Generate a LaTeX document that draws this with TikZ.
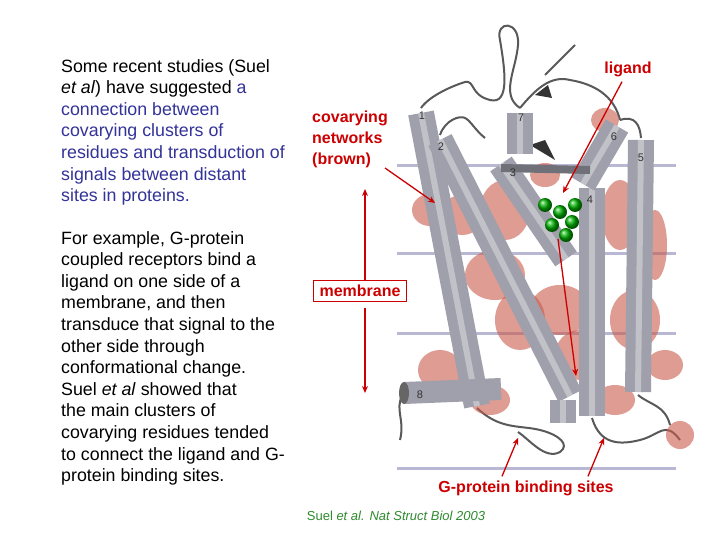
\documentclass[tikz,border=0pt]{standalone}
\usepackage{fontspec}
\setmainfont{Liberation Sans}
\usetikzlibrary{arrows.meta}
\definecolor{tblue}{HTML}{333399}
\definecolor{tred}{HTML}{CC0000}
\definecolor{tgreen}{HTML}{2E8B2E}
\definecolor{cyl}{HTML}{A0A0AC}
\definecolor{blob}{HTML}{C85A4C}
\definecolor{mline}{HTML}{B8B8D4}
\tikzset{
  txt/.style={font=\fontsize{17.8}{21.6}\selectfont, align=left, anchor=north west, inner sep=0},
  lab/.style={font=\fontsize{16}{21}\selectfont\bfseries, text=tred, inner sep=0},
  arr/.style={tred, line width=1.3pt, -{Stealth[length=7pt,width=6pt]}},
  cylinder/.style={line width=26pt, cyl, line cap=butt},
  cylhl/.style={line width=6pt, white, opacity=0.35, line cap=butt},
  blobs/.style={fill=blob, opacity=0.6, draw=none},
  loop/.style={draw=black!65, line width=2pt},
  num/.style={font=\fontsize{11}{11}\selectfont, text=black!80, inner sep=0},
  memb/.style={mline, line width=3pt}
}
\begin{document}
\begin{tikzpicture}[x=1pt,y=-1pt]
\useasboundingbox (0,0) rectangle (720,540);
\fill[white] (0,0) rectangle (720,540);
% left text
\node[txt] (p1) at (61,59) {Some recent studies (Suel\\\textit{et al}) have suggested \textcolor{tblue}{a}\\\textcolor{tblue}{connection between}\\\textcolor{tblue}{covarying clusters of}\\\textcolor{tblue}{residues and transduction of}\\\textcolor{tblue}{signals between distant}\\\textcolor{tblue}{sites in proteins.}};
\node[txt] (p2) at (61,231) {For example, G-protein\\coupled receptors bind a\\ligand on one side of a\\membrane, and then\\transduce that signal to the\\other side through\\conformational change.\\Suel \textit{et al} showed that\\the main clusters of\\covarying residues tended\\to connect the ligand and G-\\protein binding sites.};
% membrane lines
\draw[memb] (397,166) -- (676,166);
\draw[memb] (397,253) -- (676,253);
\draw[memb] (397,333) -- (676,333);
\draw[memb] (397,468) -- (676,468);
% loops
\draw[loop] (421,108) .. controls (430,95) and (455,85) .. (465,82) .. controls (475,80) and (470,95) .. (490,100) .. controls (510,105) and (505,70) .. (500,40) .. controls (495,20) and (520,20) .. (518,45) .. controls (516,70) and (500,95) .. (520,108);
\draw[loop] (520,108) .. controls (535,90) and (550,75) .. (570,80) .. controls (600,85) and (615,100) .. (620,120);
\draw[loop] (545,75) -- (575,45);
\draw[loop] (440,135) .. controls (445,120) and (460,115) .. (465,118) .. controls (470,120) and (475,130) .. (485,138);
\draw[loop] (620,120) .. controls (635,115) and (640,125) .. (641,138);
\draw[loop] (402,396) .. controls (395,410) and (405,420) .. (400,440);
\draw[loop] (477,408) .. controls (500,430) and (520,425) .. (540,430) .. controls (560,435) and (570,445) .. (560,452) .. controls (545,460) and (530,440) .. (518,432);
\draw[loop] (592,418) .. controls (600,445) and (620,445) .. (640,440) .. controls (660,435) and (665,420) .. (680,440);
\draw[loop] (638,395) .. controls (650,405) and (665,405) .. (670,425);
\fill[black!80] (535,95) -- (548,85) -- (552,98) -- cycle;
\fill[black!80] (530,145) -- (545,140) -- (555,160) -- cycle;
% red blobs
\fill[blobs] (430,210) ellipse (18 and 16);
\fill[blobs] (462,215) ellipse (22 and 20);
\fill[blobs] (505,210) ellipse (25 and 30);
\fill[blobs] (545,175) ellipse (15 and 12);
\fill[blobs] (495,275) ellipse (30 and 25);
\fill[blobs] (520,320) ellipse (25 and 30);
\fill[blobs] (560,310) ellipse (30 and 25);
\fill[blobs] (580,355) ellipse (25 and 25);
\fill[blobs] (620,215) ellipse (18 and 35);
\fill[blobs] (655,245) ellipse (12 and 35);
\fill[blobs] (635,320) ellipse (25 and 30);
\fill[blobs] (665,365) ellipse (18 and 15);
\fill[blobs] (615,400) ellipse (20 and 15);
\fill[blobs] (440,370) ellipse (22 and 20);
\fill[blobs] (490,400) ellipse (20 and 15);
\fill[blobs] (680,435) ellipse (14 and 14);
\fill[blobs] (605,120) ellipse (14 and 12);
% cylinders
\foreach \a/\b in {{421,113}/{477,406}, {440,140}/{570,396}, {520,113}/{520,154}, {501,164}/{566,259}, {592,188}/{592,416}, {617,126}/{583,184}, {641,140}/{638,392}, {563,400}/{563,423}} {
  \draw[cylinder] (\a) -- (\b);
  \draw[cylhl] (\a) -- (\b);
}
\draw[line width=22pt, cyl] (404,393) -- (501,389);
\fill[black!60] (404,393) ellipse (5 and 11);
\draw[cyl!70!black, line width=8pt] (501,168) -- (590,170);
% green ligand
\foreach \p in {(545,205),(560,212),(572,222),(552,225),(566,235),(575,205)} {
  \shade[ball color=green!70!black] \p circle (7);
}
% numbers
\node[num] (n1) at (422,116) {1};
\node[num] (n2) at (441,147) {2};
\node[num] (n3) at (513,173) {3};
\node[num] (n4) at (590,200) {4};
\node[num] (n5) at (641,158) {5};
\node[num] (n6) at (614,137) {6};
\node[num] (n7) at (521,118) {7};
\node[num] (n8) at (420,395) {8};
% labels
\node[lab, align=left, anchor=north west] (cov) at (312,111) {covarying\\networks\\(brown)};
\node[lab] (lig) at (628,69) {ligand};
\node[lab, draw=tred, line width=0.8pt, inner xsep=6pt, inner ysep=5pt] (mem) at (360,291) {membrane};
\node[lab] (gp) at (526,488) {G-protein binding sites};
\node[font=\fontsize{13}{13}\selectfont, text=tgreen, inner sep=0] (cite) at (396,516) {Suel \textit{et al. Nat Struct Biol 2003}};
% arrows
\coordinate (ca) at (435,203);
\coordinate (la) at (563,193);
\coordinate (ls) at (558,239);
\coordinate (le) at (576,376);
\coordinate (mt) at (365,189);
\coordinate (mb) at (365,393);
\coordinate (g1) at (518,438);
\coordinate (g2) at (604,438);
\draw[arr] (385,168) -- (ca);
\draw[arr] (lig.south) ++(-6,5) -- (la);
\draw[arr] (ls) -- (le);
\draw[arr] (mem.north -| mt) -- (mt);
\draw[arr] (mem.south -| mb) ++(0,6) -- (mb);
\draw[arr] (gp.north) ++(-24,-4) -- (g1);
\draw[arr] (gp.north) ++(62,-4) -- (g2);
\end{tikzpicture}
\end{document}
